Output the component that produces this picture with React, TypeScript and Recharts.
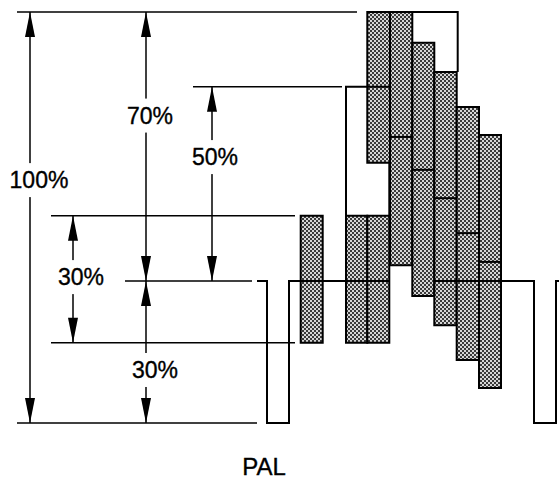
import React from "react";
import {
  ComposedChart,
  XAxis,
  YAxis,
  Line,
  Scatter,
  ReferenceArea,
  ReferenceLine,
} from "recharts";

// horizontal axis: position along the line (t), vertical: signal level (v),
// sync tip = 0, peak white = 100
const colourBars = [
  { t0: 367.3, t1: 390, top: 100, mid: 81.8, bottom: 63.3 },
  { t0: 390, t1: 412.3, top: 100, mid: 69.6, bottom: 38.4 },
  { t0: 412.3, t1: 434.3, top: 92.5, mid: 61.6, bottom: 30.9 },
  { t0: 434.3, t1: 456.7, top: 85.4, mid: 54.7, bottom: 23.8 },
  { t0: 456.7, t1: 479, top: 76.9, mid: 46.2, bottom: 15.3 },
  { t0: 479, t1: 501, top: 70.1, mid: 39.2, bottom: 8.5 },
];

const lowBars = [
  { t0: 300.7, t1: 322.7, top: 50.4, mid: 34.55, bottom: 19.5 },
  { t0: 346, t1: 367.3, top: 50.4, mid: 34.55, bottom: 19.5 },
  { t0: 367.3, t1: 389.3, top: 50.4, mid: 34.55, bottom: 19.5 },
];

const waveA = [
  { t: 257, v: 34.55 },
  { t: 267, v: 34.55 },
  { t: 267, v: 0 },
  { t: 289, v: 0 },
  { t: 289, v: 34.55 },
  { t: 389.3, v: 34.55 },
];
const waveB = [
  { t: 434.3, v: 34.55 },
  { t: 534, v: 34.55 },
  { t: 534, v: 0 },
  { t: 556, v: 0 },
  { t: 556, v: 34.55 },
  { t: 559, v: 34.55 },
];

const outlineTop = [
  { t: 367.3, v: 100 },
  { t: 457.7, v: 100 },
  { t: 457.7, v: 85.4 },
];
const outlineLeft = [
  { t: 346, v: 50.4 },
  { t: 346, v: 81.8 },
  { t: 367.3, v: 81.8 },
];
const outlineRight = [
  { t: 389.3, v: 63.3 },
  { t: 389.3, v: 50.4 },
];

const levelLines = [
  { t0: 17, t1: 357, v: 100 },
  { t0: 193, t1: 342, v: 81.8 },
  { t0: 51, t1: 295, v: 50.4 },
  { t0: 125, t1: 252, v: 34.55 },
  { t0: 51, t1: 295, v: 19.5 },
  { t0: 17, t1: 257, v: 0 },
];

const dimLines = [
  { t: 30, from: 100, to: 0 },
  { t: 146, from: 100, to: 0 },
  { t: 212, from: 81.8, to: 34.55 },
  { t: 73, from: 50.4, to: 19.5 },
];

const arrows = [
  { t: 30, v: 100, dir: "up" },
  { t: 30, v: 0, dir: "down" },
  { t: 146, v: 100, dir: "up" },
  { t: 146, v: 34.55, dir: "down" },
  { t: 146, v: 34.55, dir: "up" },
  { t: 146, v: 0, dir: "down" },
  { t: 212, v: 81.8, dir: "up" },
  { t: 212, v: 34.55, dir: "down" },
  { t: 73, v: 50.4, dir: "up" },
  { t: 73, v: 19.5, dir: "down" },
];

const labels = [
  { t: 39, v: 59.1, text: "100%" },
  { t: 150, v: 74.8, text: "70%" },
  { t: 215, v: 64.7, text: "50%" },
  { t: 81, v: 35.5, text: "30%" },
  { t: 155, v: 12.9, text: "30%" },
];

const title = [{ t: 264, v: -10.7, text: "PAL" }];

const FONT = "'Liberation Sans', Arial, Helvetica, sans-serif";

const Arrow = (p: any) => {
  const { cx, cy, payload } = p;
  const s = payload.dir === "up" ? 1 : -1;
  return (
    <path
      d={`M${cx},${cy} L${cx - 5},${cy + s * 25} L${cx + 5},${cy + s * 25} Z`}
      fill="#000"
    />
  );
};

const Label = (p: any) => {
  const { cx, cy, payload } = p;
  return (
    <g>
      <rect x={cx - 32} y={cy - 17} width={64} height={34} fill="#fff" />
      <text
        x={cx}
        y={cy}
        textAnchor="middle"
        dominantBaseline="central"
        fontFamily={FONT}
        fontSize={23}
        fill="#000"
        stroke="#000"
        strokeWidth={0.35}
      >
        {payload.text}
      </text>
    </g>
  );
};

const Title = (p: any) => (
  <text
    x={p.cx}
    y={p.cy}
    textAnchor="middle"
    dominantBaseline="central"
    fontFamily={FONT}
    fontSize={24}
    fill="#000"
    stroke="#000"
    strokeWidth={0.35}
  >
    {p.payload.text}
  </text>
);

const blocks = [...lowBars, ...colourBars];

export default function App() {
  return (
    <div style={{ position: "absolute", left: 0, top: 0, background: "#fff" }}>
      <ComposedChart width={559} height={481} margin={{ top: 0, right: 0, bottom: 0, left: 0 }}>
        <defs>
          <pattern id="dots" width="4" height="4" patternUnits="userSpaceOnUse">
            <rect width="4" height="4" fill="#d6d6d6" />
            <rect width="2" height="2" fill="#3a3a3a" />
            <rect x="2" y="2" width="2" height="2" fill="#3a3a3a" />
          </pattern>
        </defs>
        <XAxis type="number" dataKey="t" domain={[0, 559]} allowDataOverflow hide />
        <YAxis type="number" dataKey="v" domain={[-14.11, 102.92]} allowDataOverflow hide />

        {levelLines.map((l, i) => (
          <ReferenceLine
            key={`lv${i}`}
            segment={[
              { x: l.t0, y: l.v },
              { x: l.t1, y: l.v },
            ]}
            stroke="#000"
            strokeWidth={1.5}
            ifOverflow="visible"
          />
        ))}
        {dimLines.map((l, i) => (
          <ReferenceLine
            key={`dm${i}`}
            segment={[
              { x: l.t, y: l.from },
              { x: l.t, y: l.to },
            ]}
            stroke="#000"
            strokeWidth={1.5}
            ifOverflow="visible"
          />
        ))}

        {blocks.map((b, i) => (
          <ReferenceArea
            key={`bk${i}`}
            x1={b.t0}
            x2={b.t1}
            y1={b.bottom}
            y2={b.top}
            fill="url(#dots)"
            fillOpacity={1}
            stroke="#000"
            strokeWidth={2}
            ifOverflow="visible"
          />
        ))}
        {blocks.map((b, i) => (
          <ReferenceLine
            key={`md${i}`}
            segment={[
              { x: b.t0, y: b.mid },
              { x: b.t1, y: b.mid },
            ]}
            stroke="#000"
            strokeWidth={2}
            ifOverflow="visible"
          />
        ))}

        {[waveA, waveB, outlineTop, outlineLeft, outlineRight].map((d, i) => (
          <Line
            key={`ln${i}`}
            data={d}
            dataKey="v"
            type="linear"
            stroke="#000"
            strokeWidth={2}
            dot={false}
            activeDot={false}
            isAnimationActive={false}
          />
        ))}

        <Scatter data={arrows} dataKey="v" shape={Arrow} isAnimationActive={false} />
        <Scatter data={labels} dataKey="v" shape={Label} isAnimationActive={false} />
        <Scatter data={title} dataKey="v" shape={Title} isAnimationActive={false} />
      </ComposedChart>
    </div>
  );
}
